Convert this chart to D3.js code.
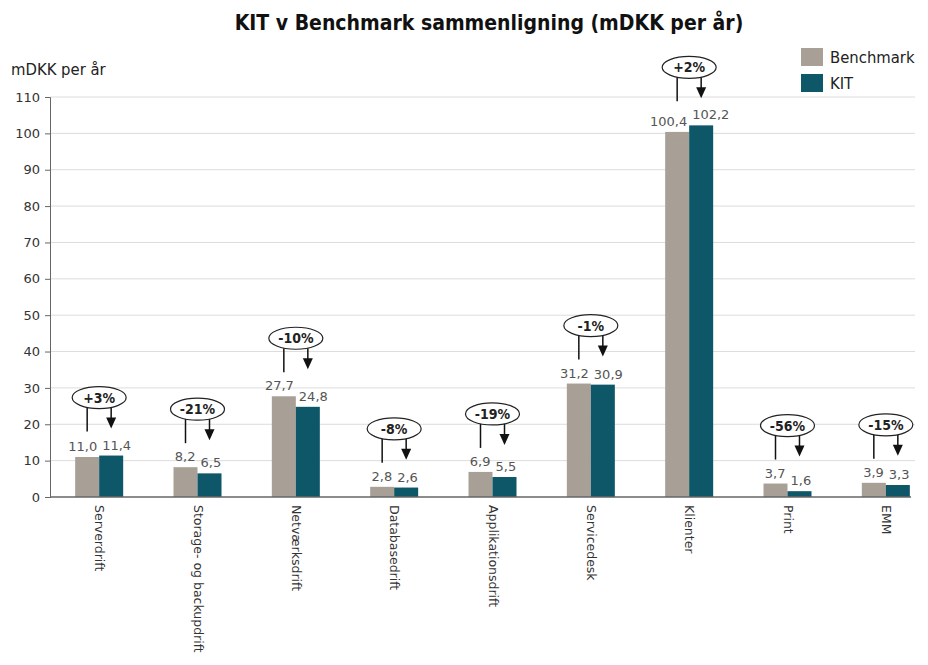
<!DOCTYPE html>
<html>
<head>
<meta charset="utf-8">
<script src="https://cdn.jsdelivr.net/npm/d3@7"></script>
<style>
  body { margin: 0; background: #fff; }
  text { font-family: "DejaVu Sans", Verdana, sans-serif; }
</style>
</head>
<body>
<div id="chart-area"></div>
<script>
// data
var categories = ["Serverdrift", "Storage- og backupdrift", "Netværksdrift", "Databasedrift",
                  "Applikationsdrift", "Servicedesk", "Klienter", "Print", "EMM"];
var benchmark = [11.0, 8.2, 27.7, 2.8, 6.9, 31.2, 100.4, 3.7, 3.9];
var kit = [11.4, 6.5, 24.8, 2.6, 5.5, 30.9, 102.2, 1.6, 3.3];
var diffLabels = ["+3%", "-21%", "-10%", "-8%", "-19%", "-1%", "+2%", "-56%", "-15%"];
var seriesNames = ["Benchmark", "KIT"];
var yTicks = [0, 10, 20, 30, 40, 50, 60, 70, 80, 90, 100, 110];

var colors = {"Benchmark": "#a8a097", "KIT": "#0d5769"};

var width = 928, height = 665;
var fmt = d3.formatLocale({decimal: ",", thousands: ".", grouping: [3], currency: ["", ""]}).format(".1f");
var condensed = "'DejaVu Sans Condensed', 'DejaVu Sans', sans-serif";

var svg = d3.select("#chart-area").append("svg")
            .attr("width", width)
            .attr("height", height);

var x = d3.scaleBand().domain(categories).range([50, 935]);
var xs = d3.scaleBand().domain(seriesNames).range([-24, 24]);
var y = d3.scaleLinear().domain([0, 110]).range([497, 97]);

// title
svg.append("text")
    .attr("x", 489).attr("y", 30)
    .attr("text-anchor", "middle")
    .style("font-family", condensed)
    .style("font-weight", "bold")
    .style("font-size", "21px")
    .attr("fill", "#111")
    .text("KIT v Benchmark sammenligning (mDKK per år)");

svg.append("text")
    .attr("x", 11).attr("y", 75)
    .style("font-family", condensed)
    .style("font-size", "16.5px")
    .attr("fill", "#222")
    .text("mDKK per år");

// gridlines
svg.append("g").selectAll("line").data(yTicks.slice(1)).enter().append("line")
    .attr("x1", 50).attr("x2", 915)
    .attr("y1", d => y(d)).attr("y2", d => y(d))
    .attr("stroke", "#dcdcdc");

// y axis
var yAxis = svg.append("g")
    .attr("transform", "translate(50,0)")
    .call(d3.axisLeft(y).tickValues(yTicks).tickSize(5).tickPadding(5));
yAxis.select(".domain").attr("stroke", "#666");
yAxis.selectAll(".tick line").attr("stroke", "#666");
yAxis.selectAll(".tick text")
    .style("font-size", "13px")
    .style("font-family", "'DejaVu Sans', sans-serif")
    .attr("fill", "#333");

// bars
var groups = svg.append("g").selectAll("g").data(categories).enter().append("g")
    .attr("transform", d => "translate(" + (x(d) + x.bandwidth() / 2) + ",0)");

groups.each(function(c, i) {
    var g = d3.select(this);
    var vals = [benchmark[i], kit[i]];
    seriesNames.forEach((s, j) => {
        g.append("rect")
            .attr("x", xs(s))
            .attr("y", y(vals[j]))
            .attr("width", xs.bandwidth())
            .attr("height", y(0) - y(vals[j]))
            .attr("fill", colors[s]);
    });

    // value labels, pushed apart if wider than the bar
    var bl = g.append("text")
        .attr("y", y(vals[0]) - 6)
        .attr("text-anchor", "middle")
        .style("font-size", "13px")
        .attr("fill", "#555")
        .text(fmt(vals[0]));
    var bw = bl.node().getComputedTextLength();
    bl.attr("x", Math.min(xs("Benchmark") + xs.bandwidth() / 2, -2 - bw / 2));

    var kl = g.append("text")
        .attr("y", y(vals[1]) - 6)
        .attr("text-anchor", "middle")
        .style("font-size", "13px")
        .attr("fill", "#555")
        .text(fmt(vals[1]));
    var kw = kl.node().getComputedTextLength();
    kl.attr("x", Math.max(xs("KIT") + xs.bandwidth() / 2, 3 + kw / 2));

    // difference bubble with line and arrow
    var top = y(d3.max(vals));
    var ey = top - 58, rx = 27, ry = 11;
    var lx = xs("Benchmark") + xs.bandwidth() / 2;
    var ax = xs("KIT") + xs.bandwidth() / 2;
    var off = ry * Math.sqrt(1 - (12 / rx) * (12 / rx));

    g.append("line")
        .attr("x1", lx).attr("x2", lx)
        .attr("y1", ey + off).attr("y2", top - 24)
        .attr("stroke", "#111").attr("stroke-width", 1.5);
    g.append("line")
        .attr("x1", ax).attr("x2", ax)
        .attr("y1", ey + off).attr("y2", top - 36)
        .attr("stroke", "#111").attr("stroke-width", 1.5);
    g.append("path")
        .attr("d", "M" + (ax - 5) + "," + (top - 38) + "L" + (ax + 5) + "," + (top - 38) + "L" + ax + "," + (top - 27) + "Z")
        .attr("fill", "#111");

    g.append("ellipse")
        .attr("cx", 0).attr("cy", ey)
        .attr("rx", rx).attr("ry", ry)
        .attr("fill", "#fff")
        .attr("stroke", "#222").attr("stroke-width", 1.2);
    g.append("text")
        .attr("x", 0).attr("y", ey + 5)
        .attr("text-anchor", "middle")
        .style("font-family", condensed)
        .style("font-size", "14px")
        .style("font-weight", "bold")
        .attr("fill", "#222")
        .text(diffLabels[i]);
});

// x axis
svg.append("line")
    .attr("x1", 50).attr("x2", 911)
    .attr("y1", y(0)).attr("y2", y(0))
    .attr("stroke", "#666").attr("stroke-width", 1.5);

svg.append("g").selectAll("text").data(categories).enter().append("text")
    .attr("transform", d => "translate(" + (x(d) + x.bandwidth() / 2 - 4) + ",505) rotate(90)")
    .style("font-size", "12.5px")
    .attr("fill", "#333")
    .text(d => d);

// legend
var legend = svg.append("g").selectAll("g").data(seriesNames).enter().append("g")
    .attr("transform", (d, i) => "translate(801," + (48 + i * 26) + ")");
legend.append("rect")
    .attr("width", 22).attr("height", 18)
    .attr("fill", d => colors[d]);
legend.append("text")
    .attr("x", 29).attr("y", 15)
    .style("font-family", condensed)
    .style("font-size", "16.5px")
    .attr("fill", "#222")
    .text(d => d);
</script>
</body>
</html>
